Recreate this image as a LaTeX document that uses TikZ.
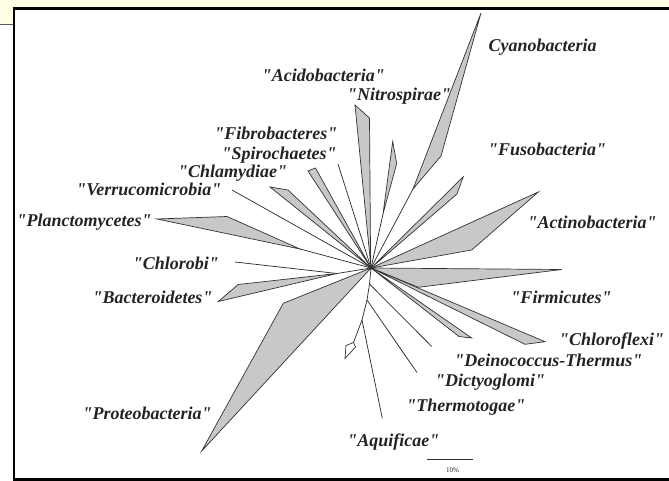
\documentclass[tikz,border=0pt]{standalone}
\usepackage{fontspec}
\setmainfont{Liberation Serif}[Ligatures=TeXOff]
\definecolor{linec}{RGB}{50,50,50}
\definecolor{wedgec}{RGB}{200,200,200}
\definecolor{textc}{RGB}{35,35,35}
\definecolor{paper}{RGB}{255,253,226}
\newcommand{\myq}{"}
\begin{document}
\begin{tikzpicture}[x=1pt,y=-1pt,
  wedge/.style={draw=linec, fill=wedgec, line width=0.7pt, line join=miter},
  branch/.style={draw=linec, line width=0.75pt},
  lab/.style={text=textc, font=\fontsize{18}{20}\selectfont\bfseries\itshape, inner sep=0pt, anchor=base},
  frameline/.style={draw=black, line width=2.6pt}
]
\useasboundingbox (0,0) rectangle (669,481);
% paper band and frame
\fill[paper] (0,0) rectangle (669,8);
\fill[paper] (0,0) rectangle (13,24);
\draw[gray!70!black, line width=0.6pt] (0,24) -- (12.5,24);
\draw[frameline] (12.5,8.7) -- (669,8.7);
\draw[frameline] (13.8,7.4) -- (13.8,481);
\draw[frameline] (12.5,479.6) -- (669,479.6);

% centre and branch points
\coordinate (c) at (371,268);
% Cyanobacteria
\coordinate (cyb) at (413,189);
\coordinate (cyt) at (481,13);
\coordinate (cys) at (441,156);
% Acidobacteria
\coordinate (ac1) at (355,105);
\coordinate (ac2) at (369.5,118);
\coordinate (ac3) at (370.5,250);
% Nitrospirae
\coordinate (nib) at (383,214);
\coordinate (nit) at (392.7,141.5);
\coordinate (nis) at (396.7,163.5);
% Fibrobacteres
\coordinate (fib) at (338,164);
% Spirochaetes
\coordinate (sp1) at (308,171);
\coordinate (sp2) at (315.5,168);
% Chlamydiae
\coordinate (ch1) at (270,187);
\coordinate (ch2) at (288,190);
% Verrucomicrobia
\coordinate (ver) at (232,190);
% Planctomycetes
\coordinate (pl1) at (157,219);
\coordinate (pl2) at (227,216.5);
\coordinate (plb) at (300,249);
% Chlorobi / Bacteroidetes
\coordinate (cho) at (235,262);
\coordinate (bj) at (337,273.5);
\coordinate (ba1) at (218.3,301.5);
\coordinate (ba2) at (238.3,284.5);
% Proteobacteria
\coordinate (pr1) at (283.3,303.3);
\coordinate (pr2) at (201.7,451);
% Fusobacteria
\coordinate (fu1) at (463.3,176.7);
\coordinate (fu2) at (457,194);
% Actinobacteria
\coordinate (at1) at (538.3,192);
\coordinate (at2) at (471.7,250);
% Firmicutes
\coordinate (fi1) at (561.7,269.5);
\coordinate (fi2) at (418.3,287.3);
% Chloroflexi
\coordinate (cf1) at (545,341.7);
\coordinate (cf2) at (525,344.3);
% Deinococcus-Thermus
\coordinate (de1) at (471.7,338);
\coordinate (de2) at (459,336.5);
% lower stem
\coordinate (s1) at (369.5,284);
\coordinate (s2) at (367,300);
\coordinate (s3) at (362,320);
\coordinate (tl) at (431.7,346.5);
\coordinate (dy1) at (402,351);
\coordinate (dy2) at (417,372.5);
\coordinate (dmA) at (353.5,342.5);
\coordinate (dmB) at (355.5,347);
\coordinate (dmC) at (345,358.5);
\coordinate (dmD) at (346,345.5);
\coordinate (aq) at (382.3,418.3);

% wedges
\draw[wedge] (c) -- (pr1) -- (pr2) -- cycle;
\draw[wedge] (c) -- (at1) -- (at2) -- cycle;
\draw[wedge] (c) -- (fi1) -- (fi2) -- cycle;
\draw[wedge] (c) -- (cf1) -- (cf2) -- cycle;
\draw[wedge] (c) -- (de1) -- (de2) -- cycle;
\draw[wedge] (c) -- (fu1) -- (fu2) -- cycle;
\draw[wedge] (c) -- (ac1) -- (ac2) -- (ac3) -- cycle;
\draw[wedge] (c) -- (sp1) -- (sp2) -- cycle;
\draw[wedge] (c) -- (ch1) -- (ch2) -- cycle;
\draw[branch] (plb) -- (c);
\draw[wedge] (pl1) -- (pl2) -- (plb) -- cycle;
\draw[branch] (cyb) -- (c);
\draw[wedge] (cyb) -- (cyt) -- (cys) -- cycle;
\draw[branch] (nib) -- (c);
\draw[wedge] (nib) -- (nit) -- (nis) -- cycle;
\draw[branch] (cho) -- (bj) -- (c);
\draw[wedge] (bj) -- (ba1) -- (ba2) -- cycle;
% plain branches
\draw[branch] (c) -- (fib);
\draw[branch] (c) -- (ver);
\draw[branch] (c) -- (s1) -- (s2) -- (s3) -- (aq);
\draw[branch] (s1) -- (tl);
\draw[wedge] (s2) -- (dy1) -- (dy2) -- cycle;
\draw[branch] (s3) -- (dmA);
\draw[draw=linec, fill=white, line width=0.7pt] (dmA) -- (dmB) -- (dmC) -- (dmD) -- cycle;
\fill[linec] (c) circle (1.8);

% labels
\node[lab] (lcy) at (542.5,52) {Cyanobacteria};
\node[lab] (lfu) at (547,156) {\myq Fusobacteria\myq};
\node[lab] (lat) at (592,228) {\myq Actinobacteria\myq};
\node[lab] (lfi) at (561,303) {\myq Firmicutes\myq};
\node[lab] (lcf) at (611.7,345.5) {\myq Chloroflexi\myq};
\node[lab] (lde) at (548.3,366) {\myq Deinococcus-Thermus\myq};
\node[lab] (ldy) at (490,386) {\myq Dictyoglomi\myq};
\node[lab] (lth) at (465.8,411) {\myq Thermotogae\myq};
\node[lab] (laq) at (393.3,446) {\myq Aquificae\myq};
\node[lab, anchor=base east] (lpr) at (211.7,419.5) {\myq Proteobacteria\myq};
\node[lab] (lba) at (152.5,303) {\myq Bacteroidetes\myq};
\node[lab] (lcho) at (175.8,269.5) {\myq Chlorobi\myq};
\node[lab, anchor=base east] (lpl) at (151.7,226) {\myq Planctomycetes\myq};
\node[lab] (lve) at (148.8,196) {\myq Verrucomicrobia\myq};
\node[lab] (lch) at (232.5,177.7) {\myq Chlamydiae\myq};
\node[lab] (lsp) at (279.2,159.5) {\myq Spirochaetes\myq};
\node[lab] (lfb) at (275.8,139.5) {\myq Fibrobacteres\myq};
\node[lab] (lac) at (323.3,82) {\myq Acidobacteria\myq};
\node[lab] (lni) at (399.2,101) {\myq Nitrospirae\myq};

% scale bar
\coordinate (sbl) at (427.3,459.3);
\coordinate (sbr) at (472.7,459.3);
\draw[draw=linec, line width=0.9pt] (sbl) -- (sbr);
\node[text=textc, font=\fontsize{7}{8}\selectfont, inner sep=0pt] (sbt) at (452.5,470) {10\%};
\end{tikzpicture}
\end{document}
